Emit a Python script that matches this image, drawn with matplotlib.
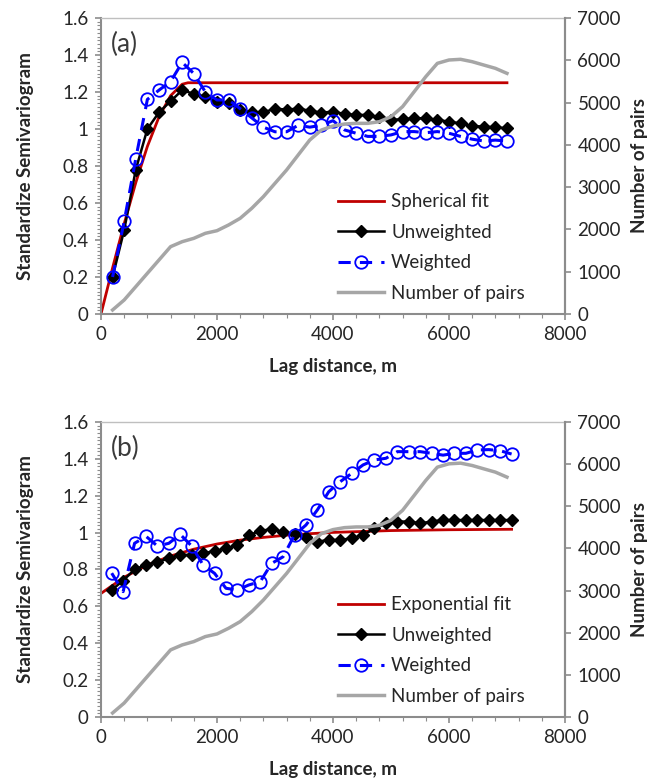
import numpy as np
import matplotlib.pyplot as plt
from matplotlib.ticker import MultipleLocator

plt.rcParams['font.family'] = ['Lato', 'DejaVu Sans']

# =========================
# Data
# =========================
lag_a = [200, 400, 600, 800, 1000, 1200, 1400, 1600, 1800, 2000, 2200, 2400,
         2600, 2800, 3000, 3200, 3400, 3600, 3800, 4000, 4200, 4400, 4600, 4800,
         5000, 5200, 5400, 5600, 5800, 6000, 6200, 6400, 6600, 6800, 7000]
unw_a = [0.20, 0.454, 0.78, 1.0, 1.09, 1.15, 1.21, 1.19, 1.175, 1.147, 1.14, 1.103,
         1.09, 1.09, 1.11, 1.105, 1.11, 1.099, 1.088, 1.094, 1.081, 1.076, 1.076, 1.063,
         1.05, 1.052, 1.058, 1.058, 1.049, 1.04, 1.03, 1.016, 1.013, 1.009, 1.004]
wgt_a = [0.20, 0.50, 0.84, 1.16, 1.21, 1.256, 1.36, 1.30, 1.20, 1.157, 1.157, 1.11,
         1.06, 1.01, 0.985, 0.985, 1.02, 1.01, 1.02, 1.045, 0.995, 0.977, 0.96, 0.96,
         0.968, 0.986, 0.986, 0.98, 0.986, 0.977, 0.96, 0.945, 0.935, 0.94, 0.935]
pairs = [95, 331, 646, 962, 1277, 1592, 1710, 1789, 1908, 1970, 2105, 2263,
         2500, 2775, 3090, 3405, 3760, 4115, 4350, 4446, 4493, 4509, 4509, 4548,
         4666, 4903, 5257, 5612, 5928, 6007, 6023, 5967, 5888, 5810, 5691]

fit_lag_a = [0, 200, 400, 600, 800, 1000, 1200, 1400, 1500, 7000]
fit_a = [0, 0.249, 0.488, 0.71, 0.906, 1.065, 1.18, 1.242, 1.25, 1.25]

lag_b = [185, 382, 579, 776, 973, 1170, 1367, 1564, 1761, 1958, 2155, 2352,
         2549, 2746, 2943, 3140, 3337, 3534, 3731, 3928, 4125, 4322, 4519, 4716,
         4913, 5110, 5307, 5504, 5701, 5898, 6095, 6292, 6489, 6686, 6883, 7080]
unw_b = [0.689, 0.74, 0.80, 0.825, 0.84, 0.86, 0.878, 0.88, 0.887, 0.90, 0.914, 0.932,
         0.985, 1.01, 1.018, 1.005, 0.99, 0.975, 0.951, 0.96, 0.96, 0.969, 0.987, 1.023,
         1.05, 1.06, 1.06, 1.05, 1.06, 1.068, 1.068, 1.068, 1.068, 1.068, 1.068, 1.068]
wgt_b = [0.78, 0.68, 0.942, 0.98, 0.927, 0.942, 0.99, 0.927, 0.824, 0.779, 0.698, 0.689,
         0.716, 0.734, 0.833, 0.869, 0.987, 1.041, 1.123, 1.222, 1.276, 1.321, 1.367, 1.394,
         1.403, 1.439, 1.439, 1.439, 1.43, 1.42, 1.43, 1.43, 1.448, 1.45, 1.444, 1.426]

fit_lag_b = [0, 400, 800, 1200, 1600, 2000, 2400, 2800, 3200, 3600, 4000, 5000, 6000, 7080]
fit_b = [0.67, 0.758, 0.824, 0.873, 0.910, 0.938, 0.959, 0.974, 0.986, 0.994, 1.001,
         1.011, 1.0155, 1.018]

spine_col = '#8c8c8c'
txt_col = '#262626'
fs = 13.5

fig = plt.figure(figsize=(6.57, 7.83), dpi=100)
ax_a = fig.add_axes([0.1537, 0.599, 0.7062, 0.378])
ax_b = fig.add_axes([0.1537, 0.0843, 0.7062, 0.3768])


def panel(ax, lag, unw, wgt, fit_lag, fit, fit_name, tag):
    ax.plot(fit_lag, fit, color='#C00000', lw=2, label=fit_name, zorder=2)
    ax.plot(lag, unw, color='black', lw=1.8, marker='D', ms=6,
            label='Unweighted', zorder=3)
    ax.plot(lag, wgt, color='#0000FF', lw=2.2, ls=(0, (4, 3)), marker='o', ms=9,
            mfc='none', mec='#0000FF', mew=1.3, label='Weighted', zorder=4)
    ax.set_xlim(0, 8000)
    ax.set_ylim(0, 1.6)
    ax.xaxis.set_major_locator(MultipleLocator(2000))
    ax.xaxis.set_minor_locator(MultipleLocator(400))
    ax.yaxis.set_minor_locator(MultipleLocator(0.02))
    ax.set_yticks(np.arange(0, 1.61, 0.2))
    ax.set_yticklabels(['0', '0.2', '0.4', '0.6', '0.8', '1', '1.2', '1.4', '1.6'])
    ax.tick_params(which='both', direction='out', color=spine_col, labelsize=fs,
                   labelcolor=txt_col, right=False, top=False)
    ax.tick_params(which='major', length=4, width=1.2, pad=5)
    ax.tick_params(which='minor', length=3, width=0.8)
    for s in ax.spines.values():
        s.set_color(spine_col)
        s.set_linewidth(1.5)
    ax.spines['top'].set_color('#bfbfbf')
    ax.spines['top'].set_linewidth(1)
    ax.set_xlabel('Lag distance, m', fontsize=fs, fontweight='bold', color=txt_col)
    ax.set_ylabel('Standardize Semivariogram', fontsize=fs, fontweight='bold', color=txt_col)
    ax.xaxis.set_label_coords(0.5, -0.15)
    ax.yaxis.set_label_coords(-0.145, 0.5)
    ax.text(0.022, 0.91, tag, transform=ax.transAxes, fontsize=19,
            color='#3a3a3a', va='center', ha='left')

    ax2 = ax.twinx()
    ax2.plot(lag_a, pairs, color='#a6a6a6', lw=2.5, label='Number of pairs', zorder=5)
    ax2.set_ylim(0, 7000)
    ax2.yaxis.set_major_locator(MultipleLocator(1000))
    ax2.tick_params(direction='out', color=spine_col, labelsize=fs,
                    labelcolor=txt_col, length=4, width=1.2, pad=5)
    for s in ax2.spines.values():
        s.set_visible(False)
    ax2.spines['right'].set_visible(True)
    ax2.spines['right'].set_color(spine_col)
    ax2.spines['right'].set_linewidth(1.5)
    ax2.set_ylabel('Number of pairs', fontsize=fs, fontweight='bold', color=txt_col)
    ax2.yaxis.set_label_coords(1.142, 0.5)

    h1, l1 = ax.get_legend_handles_labels()
    h2, l2 = ax2.get_legend_handles_labels()
    ax2.legend(h1 + h2, l1 + l2, loc='lower left', bbox_to_anchor=(0.49, 0.01),
               frameon=False, fontsize=fs, handlelength=2.45, handletextpad=0.4,
               labelspacing=0.72, borderpad=0, labelcolor=txt_col)


panel(ax_a, lag_a, unw_a, wgt_a, fit_lag_a, fit_a, 'Spherical fit', '(a)')
panel(ax_b, lag_b, unw_b, wgt_b, fit_lag_b, fit_b, 'Exponential fit', '(b)')

fig.savefig('out.png', dpi=100)
